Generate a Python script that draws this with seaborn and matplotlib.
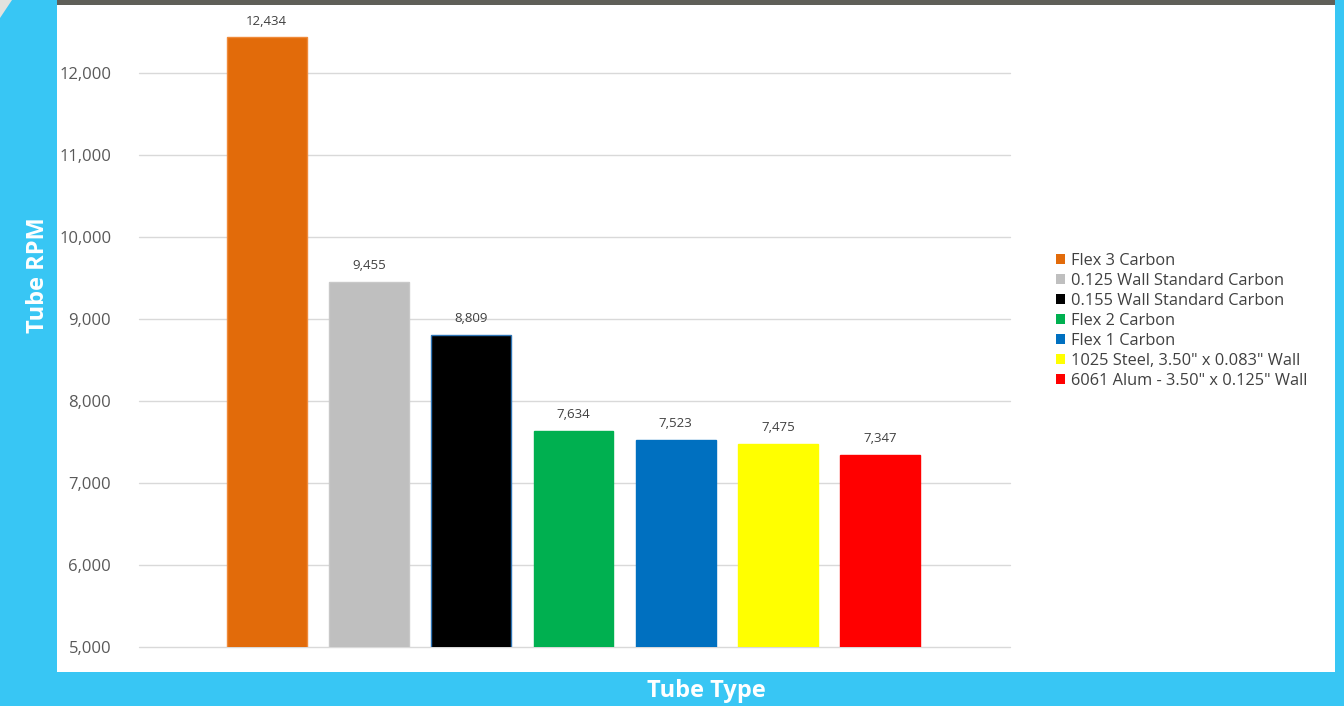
import matplotlib
matplotlib.use("Agg")
import matplotlib.pyplot as plt
import seaborn as sns
from matplotlib.patches import Rectangle, Polygon, Patch

categories = ["Flex 3 Carbon", "0.125 Wall Standard Carbon", "0.155 Wall Standard Carbon",
              "Flex 2 Carbon", "Flex 1 Carbon", "1025 Steel, 3.50\" x 0.083\" Wall",
              "6061 Alum - 3.50\" x 0.125\" Wall"]
rpm = [12434, 9455, 8809, 7634, 7523, 7475, 7347]
colors = ["#E26B0A", "#BFBFBF", "#000000", "#00B050", "#0070C0", "#FFFF00", "#FF0000"]
yticks = [5000, 6000, 7000, 8000, 9000, 10000, 11000, 12000]

sns.set_theme(style="white")
plt.rcParams['font.family'] = ['Open Sans', 'DejaVu Sans']
plt.rcParams['ytick.major.pad'] = 20
plt.rcParams['ytick.major.size'] = 0

W, H = 1344, 706
fig = plt.figure(figsize=(W / 100, H / 100), dpi=100)
fig.patch.set_facecolor("#38C6F4")

# white panel and dark strip
fig.patches.append(Rectangle((57 / W, 1 - 672 / H), (1335 - 57) / W, (672 - 5) / H,
                             transform=fig.transFigure, facecolor="white", edgecolor="none", zorder=-2))
fig.patches.append(Rectangle((57 / W, 1 - 5 / H), (1335 - 57) / W, 5 / H,
                             transform=fig.transFigure, facecolor="#5F5F58", edgecolor="none", zorder=-2))
fig.patches.append(Polygon([(0, 1), (12 / W, 1), (0, 1 - 18 / H)], closed=True,
                           transform=fig.transFigure, facecolor="#E2E2DE", edgecolor="none", zorder=-2))

ax = fig.add_axes([139 / W, 1 - 647 / H, (1010 - 139) / W, (647 - 15) / H])
ax.set_zorder(2)
ax.set_facecolor("none")

sns.barplot(x=categories, y=rpm, hue=categories, palette=colors, dodge=False,
            width=0.78, ax=ax, legend=False, saturation=1, zorder=3)

edge_cols = ["#F08A3A", "#C8C8C8", "#2E75B6", "#00B050", "#0070C0", "#FFFF00", "#FF0000"]
for p, ec in zip(ax.patches, edge_cols):
    p.set_edgecolor(ec)
    p.set_linewidth(1.0)

for c in ax.containers:
    ax.bar_label(c, labels=[f"{v:,.0f}" for v in c.datavalues], padding=7,
                 fontsize=9.5, color="#404040")

ax.set_ylim(5000, 12707)
ax.set_xlim(-1.25, 7.27)
ax.set_yticks(yticks)
ax.set_yticklabels([f"{t:,}" for t in yticks], fontsize=12, color="#595959")
ax.tick_params(axis="y", length=0, pad=20)
ax.set_xticks([])
ax.set_xlabel("")
ax.set_ylabel("")
for s in ax.spines.values():
    s.set_visible(False)
for t in yticks:
    ax.axhline(t, color="#D9D9D9", lw=1, zorder=1, clip_on=False)

handles = [Patch(facecolor=c, edgecolor="none") for c in colors]
leg = fig.legend(handles, categories, loc="center left", bbox_to_anchor=(1048 / W, 1 - 321 / H),
                 frameon=False, fontsize=11.8, labelcolor="#404040", handlelength=0.55,
                 handleheight=0.55, handletextpad=0.35, labelspacing=0.24, borderpad=0)
leg.set_zorder(3)

fig.text(38 / W, 1 - 275 / H, "Tube RPM", rotation=90, ha="center", va="center",
         color="white", fontsize=17, fontweight="bold")
fig.text(706 / W, 1 - 691 / H, "Tube Type", ha="center", va="center",
         color="white", fontsize=17, fontweight="bold")

fig.savefig("out.png", dpi=100, facecolor=fig.get_facecolor())
